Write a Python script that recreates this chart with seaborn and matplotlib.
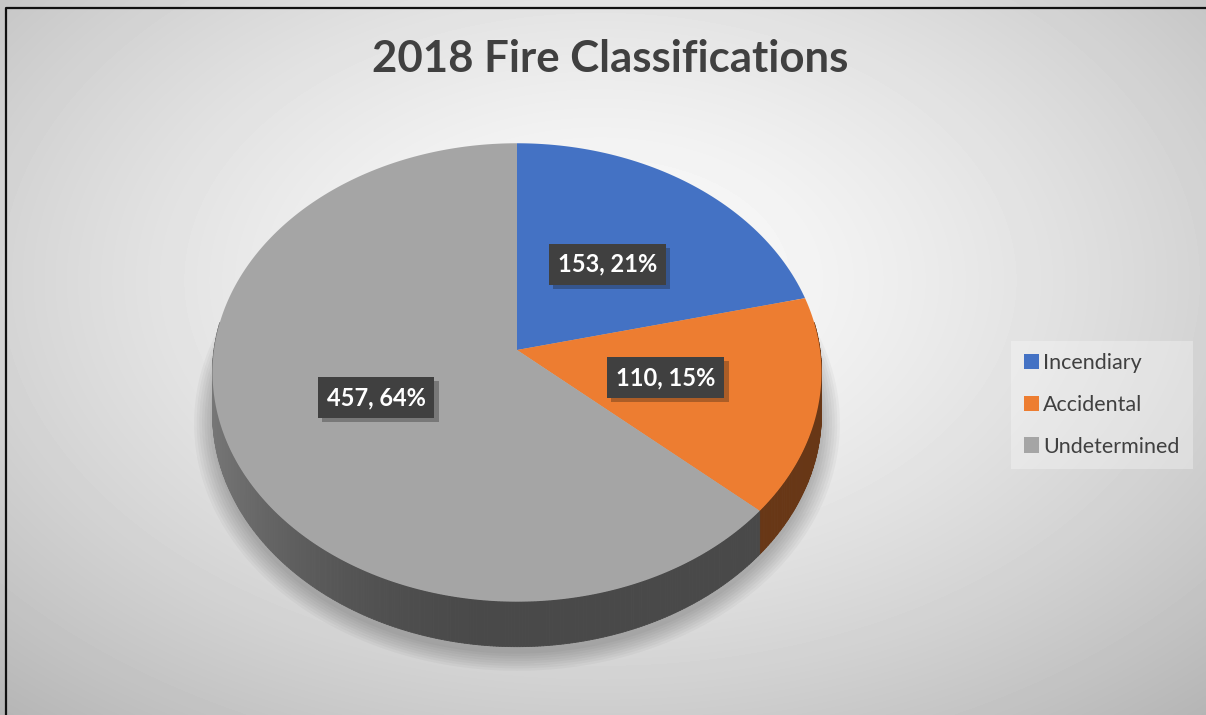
import numpy as np
import matplotlib
matplotlib.use("Agg")
import matplotlib.pyplot as plt
import seaborn as sns
from matplotlib.patches import Patch
from matplotlib.collections import PolyCollection
from matplotlib.path import Path
from matplotlib.transforms import Transform, Affine2D
import matplotlib.patheffects as pe

# === Datos del gráfico ===
title = "2018 Fire Classifications"
categories = ["Incendiary", "Accidental", "Undetermined"]
counts = [153, 110, 457]
pct_labels = [21, 15, 64]  # porcentajes tal como aparecen en la etiqueta

# === Estilo ===
sns.set_theme(style="white")
plt.rcParams["font.family"] = ["Lato", "DejaVu Sans"]
palette = sns.color_palette(["#4472C4", "#ED7D31", "#A5A5A5"])
TXT = "#404040"

# Geometría del pastel inclinado (en píxeles de la figura)
W, H = 1206, 715
CX, CY = 517, 350
A, B, K = 303, 227, 0.098
DEPTH = 40.6


def project(u, v, z=0.0):
    d = 1 + K * v
    return CX + A * u / d, CY - (B * v + DEPTH * z) / d


class Tilt(Transform):
    """Perspectiva simple: disco unitario -> elipse en píxeles."""
    input_dims = output_dims = 2

    def transform_non_affine(self, values):
        pts = np.atleast_2d(np.asarray(values, float))
        x, y = project(pts[:, 0], pts[:, 1])
        return np.column_stack([x, y])

    def transform_path_non_affine(self, path):
        scale = Affine2D().scale(2000)
        polys = path.to_polygons(transform=scale, closed_only=True)
        verts = np.concatenate(polys) / 2000
        return Path(self.transform_non_affine(verts), closed=True)


fig = plt.figure(figsize=(W / 100, H / 100), dpi=100)
ax = fig.add_axes([0, 0, 1, 1])

# === Pastel (cara superior) ===
wedges, _, autotexts = ax.pie(
    counts, colors=palette, startangle=90, counterclock=False,
    autopct="%1.0f%%", pctdistance=0.5, wedgeprops=dict(linewidth=0),
)
tilt = Tilt() + ax.transData
for w in wedges:
    w.set_transform(tilt)
    w.set_zorder(5)

for t, c, p in zip(autotexts, counts, pct_labels):
    t.set_transform(tilt)
    t.set_text(f"{c}, {p}%")
    t.set_fontsize(17)
    t.set_fontweight("bold")
    t.set_color("white")
    t.set_zorder(7)
    t.set_bbox(dict(boxstyle="square,pad=0.38", fc="#404040", ec="none"))
    t.get_bbox_patch().set_path_effects(
        [pe.SimplePatchShadow(offset=(3, -3), alpha=0.3), pe.Normal()])

ax.set_xlim(0, W)
ax.set_ylim(H, 0)
ax.set_aspect("auto")
ax.axis("off")

# === Fondo con degradado ===
yy, xx = np.mgrid[0:H, 0:W]
dist = np.sqrt(((xx - 600) / 700) ** 2 + ((yy - 280) / 450) ** 2)
bg = 252 - 58 * np.clip(dist / 1.12, 0, 1.3) ** 1.4
ax.imshow(bg, cmap="gray", vmin=0, vmax=255, extent=(0, W, H, 0),
          aspect="auto", interpolation="bilinear", zorder=0)

# === Sombra ===
tt = np.linspace(0, 2 * np.pi, 361)
for s in np.linspace(1.06, 1.0, 8):
    x, y = project(s * np.cos(tt), s * np.sin(tt), -1)
    ax.fill(x, y + 7, color="black", alpha=0.03, lw=0, zorder=2)

# === Paredes laterales ===
quads, cols = [], []
for w, col in zip(wedges, palette):
    n = max(2, int((w.theta2 - w.theta1) / 0.5) + 1)
    ts = np.linspace(w.theta1, w.theta2, n)
    for t0, t1 in zip(ts[:-1], ts[1:]):
        tm = np.radians((t0 + t1) / 2)
        if np.sin(tm) > 0.12:
            continue
        r0, r1 = np.radians(t0), np.radians(t1)
        top0 = project(np.cos(r0), np.sin(r0))
        top1 = project(np.cos(r1), np.sin(r1))
        bot1 = project(np.cos(r1), np.sin(r1), -1)
        bot0 = project(np.cos(r0), np.sin(r0), -1)
        quads.append([top0, top1, bot1, bot0])
        f = 0.44 + 0.29 * np.clip(-np.cos(tm), 0, 1) ** 2
        cols.append(tuple(np.array(col) * f))
ax.add_collection(PolyCollection(quads, facecolors=cols, edgecolors=cols,
                                 linewidths=0.6, zorder=3))

# === Título ===
ax.text(610, 72, title, ha="center", va="baseline", fontsize=31.5,
        fontweight="bold", color=TXT, zorder=8)

# === Leyenda ===
handles = [Patch(facecolor=c, edgecolor="none") for c in palette]
leg = ax.legend(handles, categories, loc="center left",
                bbox_to_anchor=(1011 / W, 1 - 405 / H), bbox_transform=fig.transFigure,
                fontsize=15.5, frameon=True, facecolor="white", framealpha=0.3,
                edgecolor="none", fancybox=False, handlelength=0.7, handleheight=0.7,
                handletextpad=0.2, labelspacing=1.0, borderpad=0.6, borderaxespad=0)
for t in leg.get_texts():
    t.set_color(TXT)

# === Borde ===
ax.plot([6, 6, W], [H, 8, 8], color="#111111", lw=1.6, zorder=9, solid_capstyle="butt")

fig.savefig("out.png", dpi=100)
